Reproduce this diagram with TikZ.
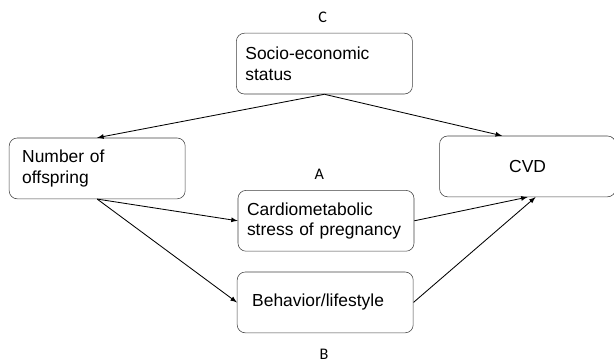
\documentclass[tikz,border=0pt]{standalone}
\usepackage{fontspec}
\setmainfont{Liberation Sans}
\newfontfamily\labfont{Carlito}
\begin{document}
\begin{tikzpicture}[
    box/.style={draw=black!75,rounded corners=0.2cm,text width=3.95cm,inner xsep=0.225cm,
      minimum height=1.52cm,align=left,font=\fontsize{12.4}{14.6}\selectfont},
    lab/.style={font=\labfont\fontsize{11.5}{13}\selectfont}]
  \useasboundingbox (0,0) rectangle (15.35,-9.05);
  \node[box] (SES) at (8.11,-1.59) {Socio-economic\\status};
  \node[box] (NO) at (2.43,-4.21) {\hspace*{0.1cm}Number of\\\hspace*{0.1cm}offspring};
  \node[box,align=center] (CVD) at (13.19,-4.16) {CVD};
  \node[box] (CSP) at (8.15,-5.52) {Cardiometabolic\\stress of pregnancy};
  \node[box] (BL) at (8.13,-7.56) {\hspace*{0.15cm}Behavior/lifestyle};
  \node[lab] (C) at (8.07,-0.43) {C};
  \node[lab] (A) at (7.98,-4.37) {A};
  \node[lab] (B) at (8.10,-8.85) {B};
  \draw[->,semithick,>=latex] (SES.south) -- (NO.north);
  \draw[->,semithick,>=latex] (SES.south) -- ([xshift=-0.64cm]CVD.north);
  \draw[->,semithick,>=latex] (NO.south) -- (CSP.west);
  \draw[->,semithick,>=latex] (NO.south) -- (BL.west);
  \draw[->,semithick,>=latex] (CSP.east) -- (CVD.south);
  \draw[->,semithick,>=latex] (BL.east) -- ([xshift=0.2cm]CVD.south);
\end{tikzpicture}
\end{document}
